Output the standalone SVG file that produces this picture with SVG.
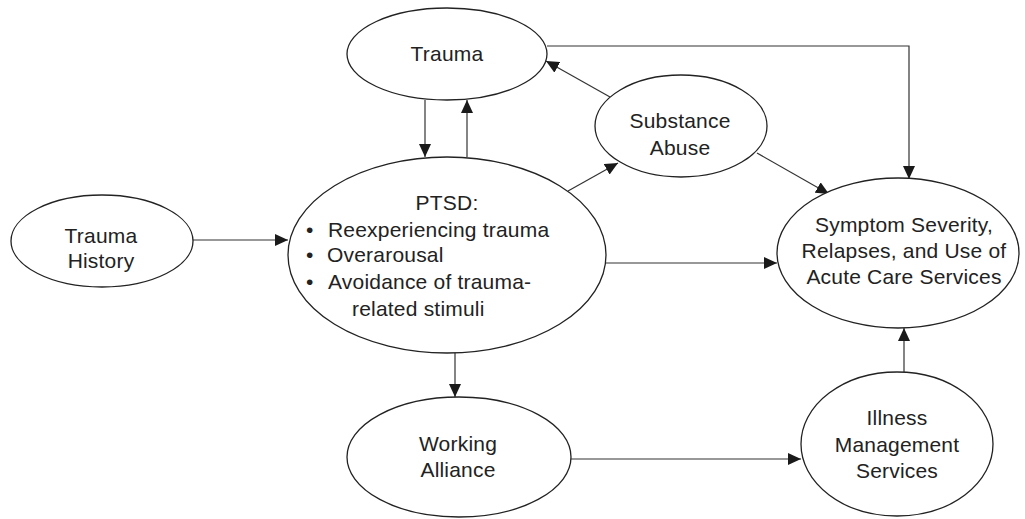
<svg xmlns="http://www.w3.org/2000/svg" width="1025" height="519" viewBox="0 0 1025 519">
<style>
.n ellipse{fill:#fff;stroke:#222;stroke-width:1.3}
text{font-family:"Liberation Sans",Arial,sans-serif;font-size:21px;fill:#222;letter-spacing:0.2px}
.c{text-anchor:middle}
#edges line,#edges polyline{stroke:#333;stroke-width:1.2;fill:none;marker-end:url(#ah)}
</style>
<defs>
<marker id="ah" markerUnits="userSpaceOnUse" markerWidth="14" markerHeight="12" refX="13" refY="6" orient="auto">
<path d="M0,0 L13,6 L0,12 Z" fill="#1a1a1a"/>
</marker>
</defs>
<rect width="1025" height="519" fill="#fff"/>
<g id="edges">
<line x1="193" y1="240" x2="288" y2="240"/>
<line x1="425" y1="100" x2="425" y2="157"/>
<line x1="467" y1="157" x2="467" y2="100"/>
<line x1="610" y1="97" x2="546" y2="61"/>
<line x1="568" y1="191" x2="618" y2="163"/>
<polyline points="547,46 909,46 909,179"/>
<line x1="757" y1="153" x2="829" y2="194"/>
<line x1="606" y1="263" x2="777" y2="263"/>
<line x1="455" y1="353" x2="455" y2="397"/>
<line x1="571" y1="459" x2="801" y2="459"/>
<line x1="904" y1="372" x2="904" y2="328"/>
</g>
<g id="trauma" class="n"><ellipse cx="447" cy="54" rx="100" ry="46"/><text class="c" x="447" y="61">Trauma</text></g>
<g id="substance" class="n"><ellipse cx="681" cy="126" rx="86" ry="51"/><text class="c" x="680" y="128">Substance</text><text class="c" x="680" y="155">Abuse</text></g>
<g id="history" class="n"><ellipse cx="102" cy="241" rx="91" ry="46"/><text class="c" x="101" y="243">Trauma</text><text class="c" x="101" y="268">History</text></g>
<g id="ptsd" class="n"><ellipse cx="447" cy="255" rx="159" ry="98"/>
<text class="c" x="447" y="210">PTSD:</text>
<text x="306" y="237">•</text><text x="328" y="237">Reexperiencing trauma</text>
<text x="306" y="262">•</text><text x="327" y="262">Overarousal</text>
<text x="306" y="289">•</text><text x="328" y="289">Avoidance of trauma-</text>
<text x="352" y="316">related stimuli</text></g>
<g id="symptom" class="n"><ellipse cx="898" cy="253" rx="121" ry="75"/><text class="c" x="904" y="232">Symptom Severity,</text><text class="c" x="904" y="258">Relapses, and Use of</text><text class="c" x="904" y="284">Acute Care Services</text></g>
<g id="working" class="n"><ellipse cx="459" cy="457" rx="112" ry="60"/><text class="c" x="458" y="451">Working</text><text class="c" x="458" y="477">Alliance</text></g>
<g id="illness" class="n"><ellipse cx="897" cy="444" rx="96" ry="72"/><text class="c" x="897" y="425">Illness</text><text class="c" x="897" y="452">Management</text><text class="c" x="897" y="478">Services</text></g>
</svg>
